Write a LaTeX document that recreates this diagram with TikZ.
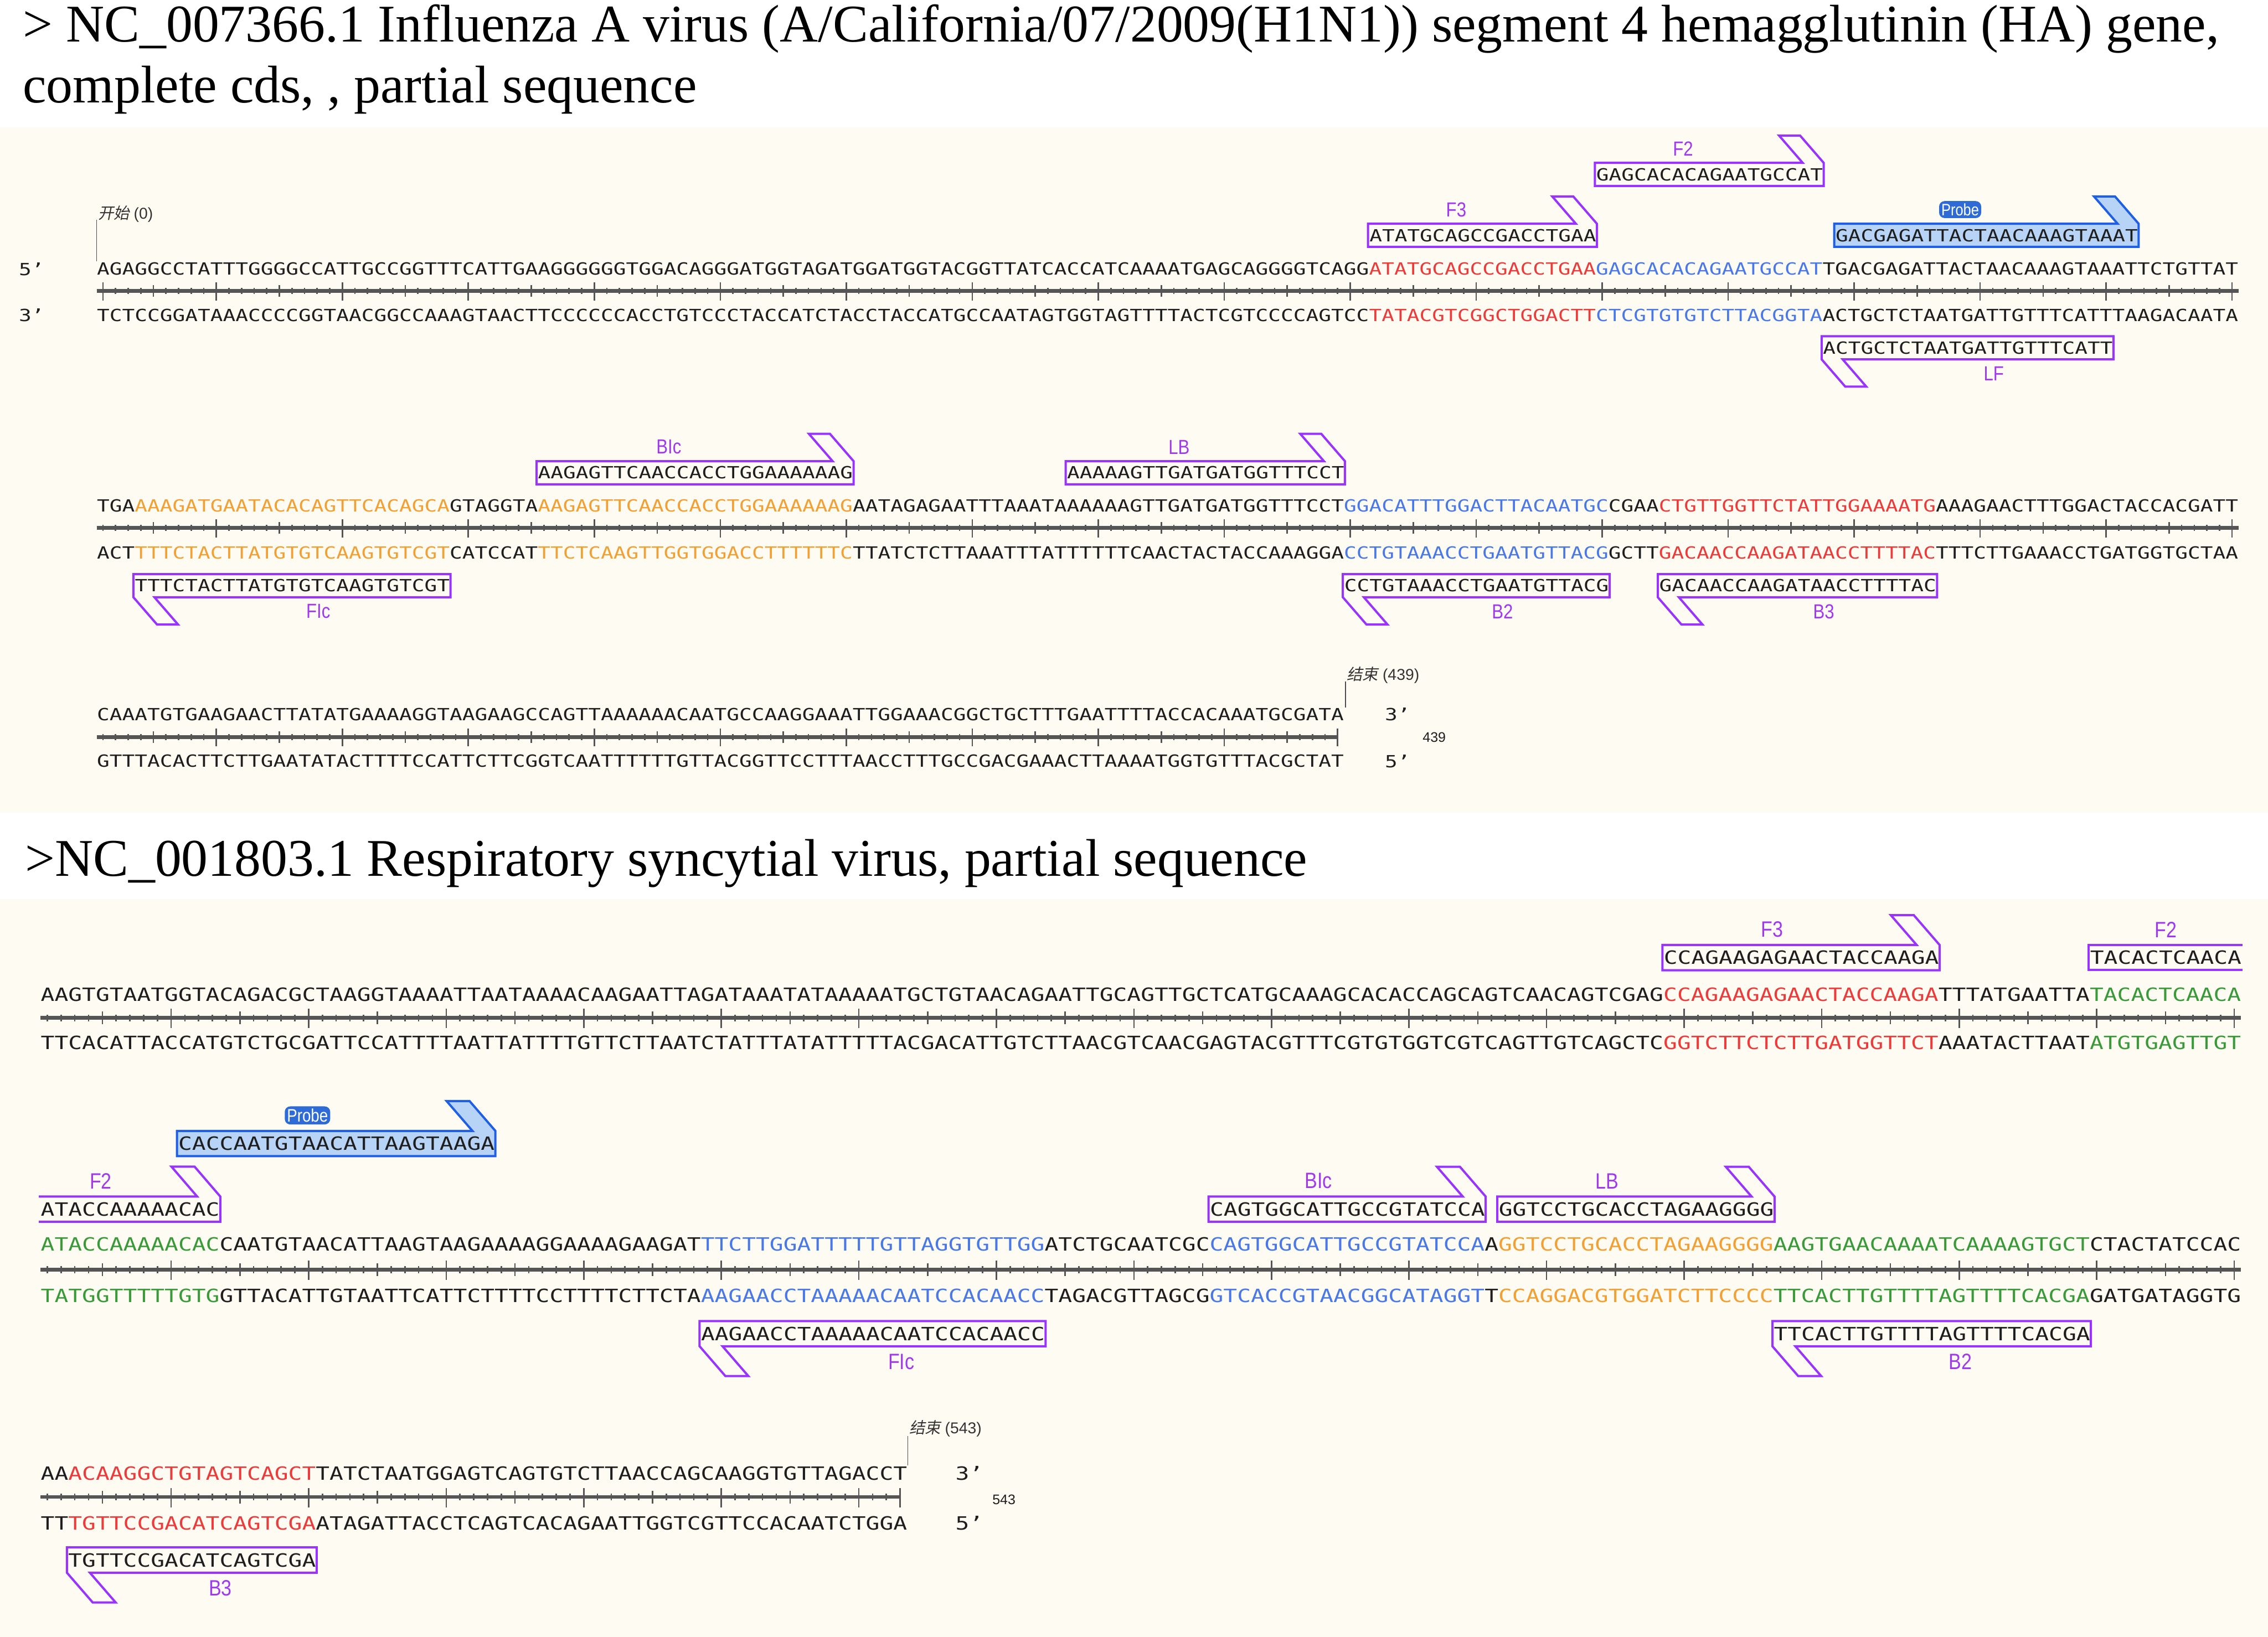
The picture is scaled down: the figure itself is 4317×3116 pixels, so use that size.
\documentclass[tikz,border=0pt]{standalone}
\usepackage{fontspec}
\usepackage{graphicx}
\usepackage{xcolor}
\usepackage{tikz}
\usetikzlibrary{positioning}
\setmainfont{Liberation Serif}
\newfontfamily\seqfont{DejaVu Sans Mono}
\newfontfamily\labfont{Liberation Sans}
\newfontfamily\cjk[FakeSlant=0.2]{Noto Sans CJK SC}
\definecolor{bgcream}{HTML}{FDFBF2}
\definecolor{primc}{HTML}{9933FF}
\definecolor{labc}{HTML}{A038F0}
\definecolor{prbline}{HTML}{1F5FE6}
\definecolor{prbfill}{HTML}{B7D4F6}
\definecolor{prbtag}{HTML}{2F6BD6}
\definecolor{sred}{HTML}{EB3B3B}
\definecolor{sblue}{HTML}{4A78E6}
\definecolor{sorng}{HTML}{F2A033}
\definecolor{sgrn}{HTML}{3A9A3A}
\definecolor{sink}{HTML}{1E1E1E}
\definecolor{rulc}{HTML}{555555}
\newcommand{\sq}[1]{\scalebox{1}[0.8]{#1}}
\newcommand{\nl}[1]{\scalebox{0.85}[1]{#1}}
\def\xo{184}\def\pp{23.98}\def\uS{1}
\def\curseq{\fontsize{11.33pt}{12pt}\selectfont}
\def\curlab{\fontsize{11pt}{12pt}\selectfont}
\def\curtag{\fontsize{9pt}{10pt}\selectfont}
\tikzset{
  ttl/.style={anchor=base west,inner sep=0pt,text=black,font=\fontsize{28.7pt}{32pt}\selectfont},
  seqtxt/.style={anchor=west,inner sep=0pt,font=\seqfont\curseq,text=sink},
  endlab/.style={inner sep=0pt,font=\seqfont\curseq,text=sink},
  numlab/.style={inner sep=0pt,font=\labfont\fontsize{7.5pt}{8pt}\selectfont,text=sink},
  plab/.style={inner sep=0pt,font=\labfont\curlab,text=labc},
  ptag/.style={inner xsep=1.2pt,inner ysep=1.3pt,rounded corners=3pt,fill=prbtag,
               font=\labfont\curtag,text=white},
  prim/.style={draw=primc,line width=1.2pt},
  probe/.style={draw=prbline,fill=prbfill,line width=1.2pt},
  rulerline/.style={draw=rulc,line width=2pt},
  tick/.style={draw=rulc,line width=0.8pt},
  markln/.style={draw=black!70,line width=0.5pt},
  marktxt/.style={anchor=west,inner sep=0pt,font=\labfont\fontsize{8.5pt}{9pt}\selectfont,text=black!80},
}
% ruler between the two strands: {y}{letters}{right end}
\newcommand{\ruler}[3]{%
  \draw[rulerline] (\xo,#1) -- (#3,#1);
  \foreach \k in {1,...,#2}{\draw[tick] ({\xo+(\k-0.5)*\pp},#1-6*\uS) -- ++(0,12*\uS);}
  \foreach \k in {5,15,...,#2}{\draw[tick] ({\xo+(\k-0.5)*\pp},#1-11*\uS) -- ++(0,22*\uS);}
  \foreach \k in {10,20,...,#2}{\draw[tick] ({\xo+(\k-0.5)*\pp},#1-16*\uS) -- ++(0,34*\uS);}
}
% forward primer, hook up at the right end
\newcommand{\fwd}[8][prim]{%
  \pgfmathsetmacro\pL{\xo+(#3-1)*\pp-2}%
  \pgfmathsetmacro\pR{\xo+#4*\pp+2}%
  \pgfmathsetmacro\pT{#5-22*\uS}%
  \pgfmathsetmacro\pB{#5+22*\uS}%
  \draw[#1] (\pL,\pT) -- (\pR-40*\uS,\pT) -- (\pR-85*\uS,\pT-52*\uS)
    -- (\pR-45*\uS,\pT-52*\uS) -- (\pR,\pT) -- (\pR,\pB) -- (\pL,\pB) -- cycle;
  \node[seqtxt] (#2) at ({\xo+(#3-1)*\pp},#5) {\sq{#6}};
  \node[#7] (#2-lab) at ({(\pL+\pR)/2-50*\uS},\pT-27*\uS) {\nl{#8}};
}
% reverse primer, hook down at the left end
\newcommand{\rev}[8][prim]{%
  \pgfmathsetmacro\pL{\xo+(#3-1)*\pp-2}%
  \pgfmathsetmacro\pR{\xo+#4*\pp+2}%
  \pgfmathsetmacro\pT{#5-22*\uS}%
  \pgfmathsetmacro\pB{#5+22*\uS}%
  \draw[#1] (\pR,\pB) -- (\pL+40*\uS,\pB) -- (\pL+85*\uS,\pB+52*\uS)
    -- (\pL+45*\uS,\pB+52*\uS) -- (\pL,\pB) -- (\pL,\pT) -- (\pR,\pT) -- cycle;
  \node[seqtxt] (#2) at ({\xo+(#3-1)*\pp},#5) {\sq{#6}};
  \node[#7] (#2-lab) at ({(\pL+\pR)/2+50*\uS},\pB+27*\uS) {\nl{#8}};
}
\begin{document}
\begin{tikzpicture}[x=0.1mm,y=-0.1mm]
  \useasboundingbox (0,0) rectangle (4317,3116);
  \fill[white] (0,0) rectangle (4317,3116);
  \fill[bgcream] (0,242) rectangle (4317,1547);
  \fill[bgcream] (0,1712) rectangle (4317,3116);

  % titles
  \node[ttl] (ttl1a) at (43,80)
    {> NC\_007366.1 Influenza A virus (A/California/07/2009(H1N1)) segment 4 hemagglutinin (HA) gene,};
  \node[ttl] (ttl1b) at (43,196) {complete cds, , partial sequence};
  \node[ttl] (ttl2) at (47,1668)
    {>NC\_001803.1 Respiratory syncytial virus, partial sequence};

  % ---------- influenza, line 1 ----------
  \draw[markln] (\xo,418) -- (\xo,497);
  \node[marktxt] (fStart) at (\xo+2,407) {{\cjk 开始} (0)};
  \node[endlab] (f5a) at (60,512) {\sq{5’}};
  \node[endlab] (f3a) at (60,600) {\sq{3’}};
  \node[seqtxt] (fl1t) at (\xo,512) {\sq{AGAGGCCTATTTGGGGCCATTGCCGGTTTCATTGAAGGGGGGTGGACAGGGATGGTAGATGGATGGTACGGTTATCACCATCAAAATGAGCAGGGGTCAGG\textcolor{sred}{ATATGCAGCCGACCTGAA}\textcolor{sblue}{GAGCACACAGAATGCCAT}TGACGAGATTACTAACAAAGTAAATTCTGTTAT}};
  \node[seqtxt] (fl1b) at (\xo,600) {\sq{TCTCCGGATAAACCCCGGTAACGGCCAAAGTAACTTCCCCCCACCTGTCCCTACCATCTACCTACCATGCCAATAGTGGTAGTTTTACTCGTCCCCAGTCC\textcolor{sred}{TATACGTCGGCTGGACTT}\textcolor{sblue}{CTCGTGTGTCTTACGGTA}ACTGCTCTAATGATTGTTTCATTTAAGACAATA}};
  \ruler{554}{170}{\xo+170*\pp}
  \draw[tick] ({\xo+0.5*\pp},554-16) -- ++(0,34);
  \fwd{fF3}{102}{119}{448}{ATATGCAGCCGACCTGAA}{plab}{F3}
  \fwd{fF2}{120}{137}{332}{GAGCACACAGAATGCCAT}{plab}{F2}
  \fwd[probe]{fPrb}{139}{162}{448}{GACGAGATTACTAACAAAGTAAAT}{ptag}{Probe}
  \rev{fLF}{138}{160}{662}{ACTGCTCTAATGATTGTTTCATT}{plab}{LF}

  % ---------- influenza, line 2 ----------
  \node[seqtxt] (fl2t) at (\xo,963) {\sq{TGA\textcolor{sorng}{AAAGATGAATACACAGTTCACAGCA}GTAGGTA\textcolor{sorng}{AAGAGTTCAACCACCTGGAAAAAAG}AATAGAGAATTTAAATAAAAAAGTTGATGATGGTTTCCT\textcolor{sblue}{GGACATTTGGACTTACAATGC}CGAA\textcolor{sred}{CTGTTGGTTCTATTGGAAAATG}AAAGAACTTTGGACTACCACGATT}};
  \node[seqtxt] (fl2b) at (\xo,1052) {\sq{ACT\textcolor{sorng}{TTTCTACTTATGTGTCAAGTGTCGT}CATCCAT\textcolor{sorng}{TTCTCAAGTTGGTGGACCTTTTTTC}TTATCTCTTAAATTTATTTTTTCAACTACTACCAAAGGA\textcolor{sblue}{CCTGTAAACCTGAATGTTACG}GCTT\textcolor{sred}{GACAACCAAGATAACCTTTTAC}TTTCTTGAAACCTGATGGTGCTAA}};
  \ruler{1005}{170}{\xo+170*\pp}
  \fwd{fBIc}{36}{60}{900}{AAGAGTTCAACCACCTGGAAAAAAG}{plab}{BIc}
  \fwd{fLB}{78}{99}{900}{AAAAAGTTGATGATGGTTTCCT}{plab}{LB}
  \rev{fFIc}{4}{28}{1115}{TTTCTACTTATGTGTCAAGTGTCGT}{plab}{FIc}
  \rev{fB2}{100}{120}{1115}{CCTGTAAACCTGAATGTTACG}{plab}{B2}
  \rev{fB3}{125}{146}{1115}{GACAACCAAGATAACCTTTTAC}{plab}{B3}

  % ---------- influenza, line 3 ----------
  \node[seqtxt] (fl3t) at (\xo,1360) {\sq{CAAATGTGAAGAACTTATATGAAAAGGTAAGAAGCCAGTTAAAAAACAATGCCAAGGAAATTGGAAACGGCTGCTTTGAATTTTACCACAAATGCGATA}};
  \node[seqtxt] (fl3b) at (\xo,1449) {\sq{GTTTACACTTCTTGAATATACTTTTCCATTCTTCGGTCAATTTTTTGTTACGGTTCCTTTAACCTTTGCCGACGAAACTTAAAATGGTGTTTACGCTAT}};
  \ruler{1403}{99}{\xo+98.5*\pp}
  \draw[tick] ({\xo+98.5*\pp},1403-16) -- ++(0,34);
  \draw[markln] (2561,1297) -- (2561,1347);
  \node[marktxt] (fEnd) at (2563,1285) {{\cjk 结束} (439)};
  \node[endlab] (f3b) at (2660,1360) {\sq{3’}};
  \node[endlab] (f5b) at (2660,1449) {\sq{5’}};
  \node[numlab] (fLen) at (2730,1404) {439};

  % ---------- RSV ----------
  \def\xo{77}\def\pp{26.18}\def\uS{1.092}
  \def\curseq{\fontsize{12.37pt}{13pt}\selectfont}
  \def\curlab{\fontsize{12pt}{13pt}\selectfont}
  \def\curtag{\fontsize{9.8pt}{11pt}\selectfont}

  % line 1
  \node[seqtxt] (rl1t) at (\xo,1893) {\sq{AAGTGTAATGGTACAGACGCTAAGGTAAAATTAATAAAACAAGAATTAGATAAATATAAAAATGCTGTAACAGAATTGCAGTTGCTCATGCAAAGCACACCAGCAGTCAACAGTCGAG\textcolor{sred}{CCAGAAGAGAACTACCAAGA}TTTATGAATTA\textcolor{sgrn}{TACACTCAACA}}};
  \node[seqtxt] (rl1b) at (\xo,1985) {\sq{TTCACATTACCATGTCTGCGATTCCATTTTAATTATTTTGTTCTTAATCTATTTATATTTTTACGACATTGTCTTAACGTCAACGAGTACGTTTCGTGTGGTCGTCAGTTGTCAGCTC\textcolor{sred}{GGTCTTCTCTTGATGGTTCT}AAATACTTAAT\textcolor{sgrn}{ATGTGAGTTGT}}};
  \ruler{1938}{160}{\xo+160*\pp}
  \fwd{rF3}{119}{138}{1823}{CCAGAAGAGAACTACCAAGA}{plab}{F3}
  \pgfmathsetmacro\pL{\xo+149*\pp-2}
  \pgfmathsetmacro\pR{\xo+160*\pp+3}
  \draw[prim] (\pR,1823-24) -- (\pL,1823-24) -- (\pL,1823+24) -- (\pR,1823+24);
  \node[seqtxt] (rF2a) at ({\xo+149*\pp},1823) {\sq{TACACTCAACA}};
  \node[plab] (rF2a-lab) at ({(\pL+\pR)/2},1823-53) {\nl{F2}};

  % line 2
  \node[seqtxt] (rl2t) at (\xo,2369) {\sq{\textcolor{sgrn}{ATACCAAAAACAC}CAATGTAACATTAAGTAAGAAAAGGAAAAGAAGAT\textcolor{sblue}{TTCTTGGATTTTTGTTAGGTGTTGG}ATCTGCAATCGC\textcolor{sblue}{CAGTGGCATTGCCGTATCCA}A\textcolor{sorng}{GGTCCTGCACCTAGAAGGGG}\textcolor{sgrn}{AAGTGAACAAAATCAAAAGTGCT}CTACTATCCAC}};
  \node[seqtxt] (rl2b) at (\xo,2467) {\sq{\textcolor{sgrn}{TATGGTTTTTGTG}GTTACATTGTAATTCATTCTTTTCCTTTTCTTCTA\textcolor{sblue}{AAGAACCTAAAAACAATCCACAACC}TAGACGTTAGCG\textcolor{sblue}{GTCACCGTAACGGCATAGGT}T\textcolor{sorng}{CCAGGACGTGGATCTTCCCC}\textcolor{sgrn}{TTCACTTGTTTTAGTTTTCACGA}GATGATAGGTG}};
  \ruler{2417}{160}{\xo+160*\pp}
  \fwd[probe]{rPrb}{11}{33}{2177}{CACCAATGTAACATTAAGTAAGA}{ptag}{Probe}
  \pgfmathsetmacro\pL{\xo-3}
  \pgfmathsetmacro\pR{\xo+13*\pp+2}
  \draw[prim] (\pL,2302-24) -- (\pR-44,2302-24) -- (\pR-93,2302-81)
    -- (\pR-49,2302-81) -- (\pR,2302-24) -- (\pR,2302+24) -- (\pL,2302+24);
  \node[seqtxt] (rF2b) at (\xo,2302) {\sq{ATACCAAAAACAC}};
  \node[plab] (rF2b-lab) at ({(\pL+\pR)/2-55},2302-53) {\nl{F2}};
  \fwd{rBIc}{86}{105}{2302}{CAGTGGCATTGCCGTATCCA}{plab}{BIc}
  \fwd{rLB}{107}{126}{2302}{GGTCCTGCACCTAGAAGGGG}{plab}{LB}
  \rev{rFIc}{49}{73}{2539}{AAGAACCTAAAAACAATCCACAACC}{plab}{FIc}
  \rev{rB2}{127}{149}{2539}{TTCACTTGTTTTAGTTTTCACGA}{plab}{B2}

  % line 3
  \node[seqtxt] (rl3t) at (\xo,2805) {\sq{AA\textcolor{sred}{ACAAGGCTGTAGTCAGCT}TATCTAATGGAGTCAGTGTCTTAACCAGCAAGGTGTTAGACCT}};
  \node[seqtxt] (rl3b) at (\xo,2900) {\sq{TT\textcolor{sred}{TGTTCCGACATCAGTCGA}ATAGATTACCTCAGTCACAGAATTGGTCGTTCCACAATCTGGA}};
  \ruler{2850}{63}{\xo+62.5*\pp}
  \draw[tick] ({\xo+62.5*\pp},2850-17) -- ++(0,37);
  \rev{rB3}{3}{20}{2970}{TGTTCCGACATCAGTCGA}{plab}{B3}
  \draw[markln] (1728,2734) -- (1728,2790);
  \node[marktxt] (rEnd) at (1730,2720) {{\cjk 结束} (543)};
  \node[endlab] (r3b) at (1845,2805) {\sq{3’}};
  \node[endlab] (r5b) at (1845,2900) {\sq{5’}};
  \node[numlab] (rLen) at (1911,2855) {543};
\end{tikzpicture}
\end{document}
